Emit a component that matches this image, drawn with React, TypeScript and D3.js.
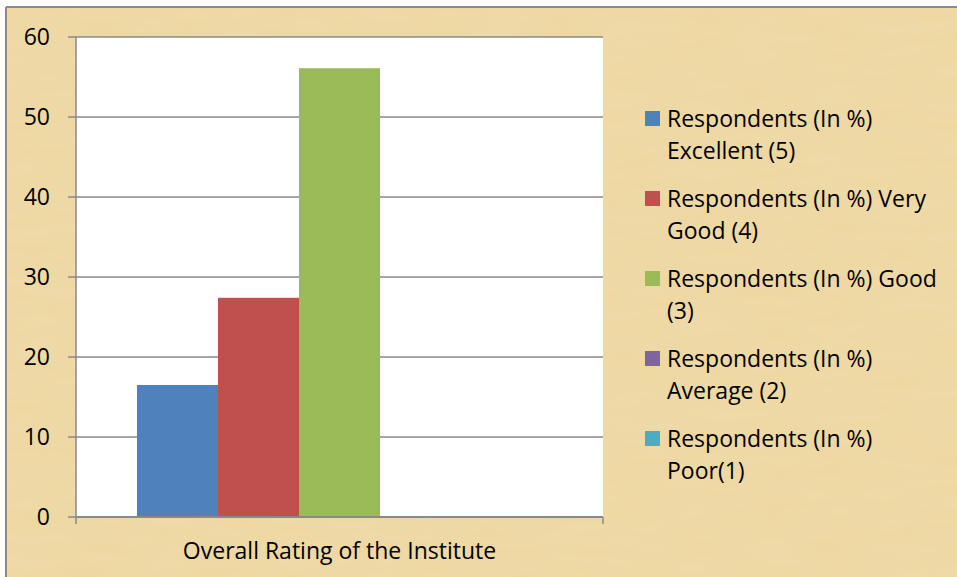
import React from 'react';
import * as d3 from 'd3';

const category = 'Overall Rating of the Institute';
const seriesNames = [
  'Respondents (In %) Excellent (5)',
  'Respondents (In %) Very Good (4)',
  'Respondents (In %) Good (3)',
  'Respondents (In %) Average (2)',
  'Respondents (In %) Poor(1)',
];
const legendLines = [
  ['Respondents (In %)', 'Excellent (5)'],
  ['Respondents (In %) Very', 'Good (4)'],
  ['Respondents (In %) Good', '(3)'],
  ['Respondents (In %)', 'Average (2)'],
  ['Respondents (In %)', 'Poor(1)'],
];
const values = [16.5, 27.4, 56.1, 0, 0];
const colors = ['#4f81bd', '#c0504d', '#9bbb59', '#8064a2', '#4bacc6'];
const yTicks = [0, 10, 20, 30, 40, 50, 60];

const W = 957;
const H = 577;
const plot = { left: 76, right: 603, top: 37, bottom: 517 };
const font = "'Open Sans', 'Noto Sans', sans-serif";
const fs = 23;

const App: React.FC = () => {
  const y = d3.scaleLinear().domain([0, 60]).range([plot.bottom, plot.top]);
  const xCat = d3.scaleBand().domain([category]).range([plot.left, plot.right]);
  const inner = d3
    .scaleBand()
    .domain(seriesNames)
    .range([xCat(category)! + 61, xCat(category)! + xCat.bandwidth() - 61]);

  return (
    <svg width={W} height={H} style={{ position: 'absolute', left: 0, top: 0 }}>
      <defs>
        <filter id="paper" x="0" y="0" width="100%" height="100%">
          <feTurbulence type="fractalNoise" baseFrequency="0.015 0.09" numOctaves="3" seed="4" result="n" />
          <feColorMatrix
            in="n"
            type="matrix"
            values="0 0 0 0 0.86  0 0 0 0 0.74  0 0 0 0 0.48  0 0 0 0.55 -0.1"
            result="c"
          />
          <feComposite in="c" in2="SourceGraphic" operator="atop" />
        </filter>
      </defs>
      <rect x={0} y={0} width={W} height={H} fill="#ffffff" />
      {/* chart area */}
      <rect x={6} y={7} width={W} height={H} fill="#eed7a0" filter="url(#paper)" />
      <line x1={6} x2={W} y1={7} y2={7} stroke="#8a8a8a" strokeWidth={2} />
      <line x1={6} x2={6} y1={7} y2={H} stroke="#8a8a8a" strokeWidth={2} />

      {/* plot area */}
      <rect x={plot.left} y={plot.top} width={plot.right - plot.left} height={plot.bottom - plot.top} fill="#ffffff" />
      {yTicks.map(t => (
        <g key={t}>
          <line x1={plot.left - 8} x2={plot.right} y1={y(t)} y2={y(t)} stroke="#898989" strokeWidth={1.5} />
          <text x={50} y={y(t)} dy="0.35em" textAnchor="end" fontFamily={font} fontSize={fs} fill="#000">
            {t}
          </text>
        </g>
      ))}

      {seriesNames.map((s, i) => (
        <rect
          key={s}
          x={inner(s)}
          y={y(values[i])}
          width={inner.bandwidth()}
          height={y(0) - y(values[i])}
          fill={colors[i]}
        />
      ))}

      <line x1={plot.left} x2={plot.left} y1={plot.top} y2={plot.bottom} stroke="#898989" strokeWidth={1.5} />
      <line x1={plot.left} x2={plot.right} y1={plot.bottom} y2={plot.bottom} stroke="#898989" strokeWidth={2} />
      {[plot.left, plot.right].map(x => (
        <line key={x} x1={x} x2={x} y1={plot.bottom} y2={plot.bottom + 7} stroke="#898989" strokeWidth={1.5} />
      ))}
      <text
        x={xCat(category)! + xCat.bandwidth() / 2}
        y={551}
        dy="0.35em"
        textAnchor="middle"
        fontFamily={font}
        fontSize={fs}
        fill="#000"
      >
        {category}
      </text>

      {/* legend */}
      {legendLines.map((lines, i) => (
        <g key={i} transform={`translate(645, ${119 + i * 80})`}>
          <rect x={0} y={-8} width={15} height={15} fill={colors[i]} />
          {lines.map((l, j) => (
            <text key={j} x={22} y={j * 32} dy="0.35em" fontFamily={font} fontSize={fs} fill="#000">
              {l}
            </text>
          ))}
        </g>
      ))}
    </svg>
  );
};

export default App;
